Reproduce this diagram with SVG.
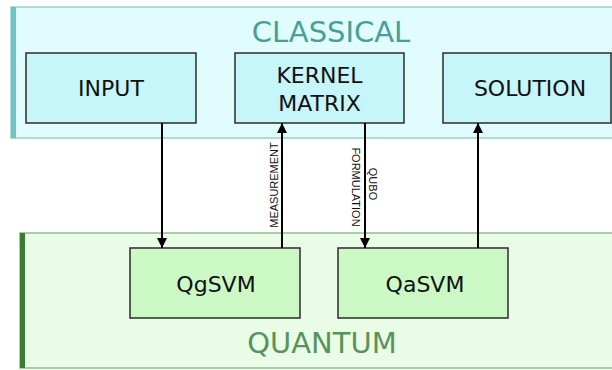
<svg xmlns="http://www.w3.org/2000/svg" width="612" height="370" viewBox="0 0 612 370">
<defs>
<style>
.cnode{fill:#c6f5fa;stroke:#2b2b2b;stroke-width:1.5}
.qnode{fill:#ccf8c6;stroke:#2b2b2b;stroke-width:1.5}
.lbl{font-family:"DejaVu Sans",sans-serif;font-size:22px;fill:#111;text-anchor:middle}
.title{font-family:"DejaVu Sans",sans-serif;font-size:29px;text-anchor:middle}
.small{font-family:"Liberation Sans",Arial,sans-serif;font-size:11px;fill:#111;text-anchor:middle}
.conn{stroke:#000;stroke-width:2;fill:none}
</style>
<marker id="ah" viewBox="0 0 10 10" refX="10" refY="5" markerWidth="10" markerHeight="10" markerUnits="userSpaceOnUse" orient="auto">
<path d="M0,0 L10,5 L0,10 z" fill="#000"/>
</marker>
</defs>
<rect width="612" height="370" fill="#ffffff"/>
<g id="classical">
<rect x="11" y="7" width="610" height="131" fill="#e0fcfc" stroke="#9ccfcf" stroke-width="1.5"/>
<rect x="11" y="7" width="5" height="131" fill="#6cc6c1"/>
<text class="title" x="331" y="42" fill="#4a9e9a">CLASSICAL</text>
</g>
<g id="quantum">
<rect x="20" y="233" width="600" height="135" fill="#e8fce6" stroke="#8fbf8a" stroke-width="1.5"/>
<rect x="20" y="233" width="5" height="135" fill="#3b7c33"/>
<text class="title" x="322" y="353" fill="#5b915b">QUANTUM</text>
</g>
<g id="input">
<rect class="cnode" x="26" y="53" width="170" height="70"/>
<text class="lbl" x="111" y="96">INPUT</text>
</g>
<g id="kernel">
<rect class="cnode" x="235" y="53" width="169" height="70"/>
<text class="lbl" x="319.5" y="83">KERNEL</text>
<text class="lbl" x="319.5" y="111">MATRIX</text>
</g>
<g id="solution">
<rect class="cnode" x="443" y="53" width="168" height="70"/>
<text class="lbl" x="530" y="96">SOLUTION</text>
</g>
<g id="qgsvm">
<rect class="qnode" x="130" y="248" width="170" height="70"/>
<text class="lbl" x="216" y="292">QgSVM</text>
</g>
<g id="qasvm">
<rect class="qnode" x="338" y="248" width="170" height="70"/>
<text class="lbl" x="425" y="292">QaSVM</text>
</g>
<g id="connectors">
<line class="conn" x1="162" y1="123" x2="162" y2="248" marker-end="url(#ah)"/>
<line class="conn" x1="282" y1="248" x2="282" y2="123" marker-end="url(#ah)"/>
<line class="conn" x1="365" y1="123" x2="365" y2="248" marker-end="url(#ah)"/>
<line class="conn" x1="478" y1="248" x2="478" y2="123" marker-end="url(#ah)"/>
<text class="small" transform="translate(278,185) rotate(-90)">MEASUREMENT</text>
<text class="small" transform="translate(369,184) rotate(90)">QUBO</text>
<text class="small" transform="translate(352,187) rotate(90)">FORMULATION</text>
</g>
</svg>
